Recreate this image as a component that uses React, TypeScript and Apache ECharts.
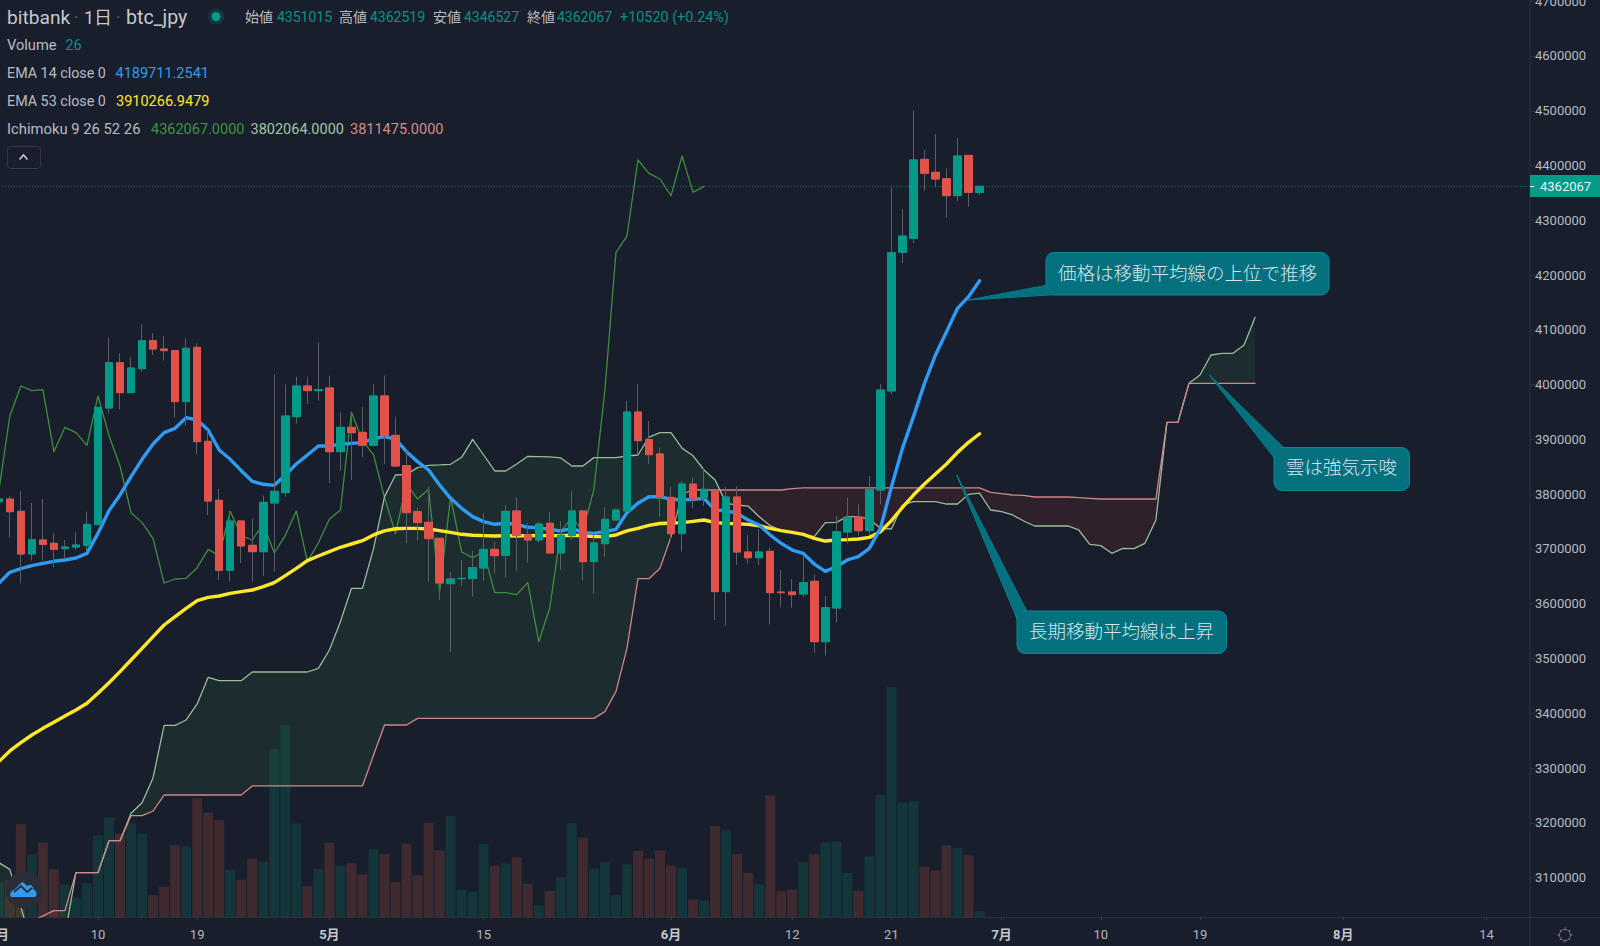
import React, { useEffect, useRef } from "react";
import * as echarts from "echarts";

const FONT = 'Roboto, "Noto Sans CJK JP", sans-serif';
const CJK = '"Noto Sans CJK JP", Roboto, sans-serif';

const BG = "#181e2b";
const UP = "#029a89";
const DOWN = "#e2524a";
const WICK = "#5a5e67";
const VOL_UP = "#14353a";
const VOL_DOWN = "#3f2a30";
const BLUE = "#2e9bf5";
const YELLOW = "#ffe72c";
const CHIKOU_C = "#3e8f3f";
const LEAD_A_C = "#98bd98";
const LEAD_B_C = "#cf8787";
const AXIS_C = "#2b303c";
const TEAL = "#0e8f84";

const openVals = [3786300,3791000,3768700,3690800,3716300,3710300,3700500,3703500,3706600,3744300,3957300,4040100,3985300,4029100,4080300,4065000,4062000,3968900,4068100,3896500,3788800,3661000,3751000,3706600,3695000,3783900,3802700,3941500,3997500,3989000,3993800,3877600,3922000,3912900,3889200,3979300,3907400,3852100,3768100,3748600,3719400,3636600,3645700,3645700,3665200,3699300,3688300,3769300,3725500,3716300,3746800,3692600,3724300,3769300,3676800,3709600,3752900,3769300,3950000,3899500,3873400,3794200,3727900,3818500,3793000,3805700,3622000,3794800,3694400,3684000,3695600,3621300,3621300,3617700,3640800,3530600,3592100,3730900,3758300,3733300,3807600,3988400,4241500,4267100,4411300,4387600,4376000,4345000,4418600,4351015];
const closeVals = [3791200,3768000,3690800,3716900,3708400,3699300,3703500,3707200,3744900,3958500,4040100,3985300,4030400,4080300,4065000,4062000,3968900,4066300,3895900,3787500,3661000,3751000,3705400,3695000,3785100,3805200,3942700,3997500,3989000,3990800,3877600,3922000,3912300,3889200,3979300,3906800,3851400,3766200,3748000,3718800,3637800,3645100,3646300,3665800,3699300,3687700,3768700,3724300,3716300,3745500,3692600,3724900,3769300,3676800,3710900,3754100,3771100,3950000,3897700,3872100,3794200,3727900,3818600,3791100,3808800,3622000,3794800,3694400,3684000,3694400,3620100,3620100,3616500,3638400,3530600,3592700,3731500,3757700,3733300,3808800,3990100,4240900,4271300,4410100,4385800,4375400,4345000,4417400,4351100,4362067];
const lowVals = [3780000,3720600,3637200,3678600,3678600,3666400,3682900,3698100,3695000,3744300,3947600,3954900,3985300,4023700,4054100,4043800,3940300,3924500,3873300,3761400,3643300,3640300,3673700,3640300,3650600,3658500,3795400,3929300,3964600,3970700,3819800,3843000,3825900,3868500,3886800,3855100,3850200,3710200,3715100,3640300,3606800,3511800,3633000,3612900,3642100,3655500,3647600,3660300,3675000,3711500,3692000,3661600,3716300,3642100,3617800,3685900,3752900,3769300,3871500,3855100,3758900,3716300,3695000,3774100,3778400,3570200,3559900,3670600,3673100,3670600,3562300,3593300,3592700,3611600,3510600,3505100,3565900,3710200,3724200,3725400,3781400,3982300,4221400,4258000,4354100,4360200,4304800,4335900,4324900,4346527];
const highVals = [3800000,3796700,3805800,3783900,3790600,3728500,3716300,3731000,3768000,3958500,4086400,4057100,4049800,4110100,4093700,4088800,4062000,4084500,4075400,3917200,3809400,3769900,3751000,3755900,3797300,4018800,4000500,4014500,4014500,4077200,4016400,3949400,3950600,3959800,4001200,4016400,3941500,3880700,3775400,3813700,3719400,3657300,3679800,3696300,3765000,3713300,3780200,3794200,3746800,3749800,3766900,3751000,3805800,3769300,3728500,3776000,3774200,3970700,4001200,3933600,3885500,3813700,3824100,3830100,3847100,3805700,3812400,3814300,3725400,3735700,3702300,3661500,3645100,3688900,3653600,3614000,3760100,3793600,3781400,3833100,4001100,4360200,4320700,4500200,4428400,4457600,4394900,4450300,4418600,4362519];
const volumeVals = [160,167,423,286,340,219,149,88,154,372,454,380,426,380,99,138,327,322,541,477,441,216,170,266,252,765,874,426,140,219,340,234,245,195,309,287,160,334,190,430,304,462,125,116,334,234,245,272,152,53,119,182,429,362,220,251,99,240,302,266,304,234,226,81,76,415,398,287,201,149,555,119,125,251,286,340,344,201,119,277,558,1049,523,527,230,213,327,316,281,26];
const ema14 = [3637200,3657300,3664000,3669500,3673700,3677400,3679800,3683500,3692000,3728500,3769900,3798500,3832000,3863600,3891600,3912300,3920200,3939700,3935400,3917200,3880600,3863600,3842900,3823400,3818000,3816100,3835000,3855100,3871500,3887900,3887900,3891000,3892800,3894000,3901400,3905000,3900700,3877600,3859400,3844100,3816800,3792400,3774200,3759000,3749800,3745000,3746800,3745000,3739500,3738900,3735800,3732800,3737600,3730300,3728500,3731500,3735800,3766200,3783300,3795400,3795400,3790600,3789400,3790500,3792300,3771000,3769800,3765000,3752800,3743700,3725400,3710200,3698000,3691900,3672400,3659100,3667600,3679800,3685800,3701100,3737600,3813000,3883600,3941500,4002300,4054100,4096700,4139300,4160600,4189711];
const ema53 = [3311600,3331100,3346300,3360300,3372400,3383400,3394900,3405900,3418100,3436400,3455800,3475900,3497200,3518500,3539800,3561100,3576300,3591600,3605600,3611600,3614100,3618900,3622000,3625000,3631100,3638400,3651200,3664600,3678600,3687100,3695000,3703000,3709000,3715100,3725500,3733000,3736800,3737600,3737600,3736400,3733400,3730300,3726700,3724900,3724300,3723600,3724300,3723600,3724300,3724300,3724300,3724300,3724900,3724300,3722400,3722400,3725500,3732800,3737600,3743100,3746500,3747400,3748000,3750400,3752800,3748000,3746700,3746100,3744900,3742400,3737600,3733300,3730300,3726600,3719300,3714400,3716300,3716900,3718100,3721100,3731500,3751600,3775900,3798400,3818500,3836800,3855000,3876300,3894600,3910267];
const chikouVals = [3805200,3942700,3997500,3989000,3990800,3877600,3922000,3912300,3889200,3979300,3906800,3851400,3766200,3748000,3718800,3637800,3645100,3646300,3665800,3699300,3687700,3768700,3724300,3716300,3745500,3692600,3724900,3769300,3676800,3710900,3754100,3771100,3950000,3897700,3872100,3794200,3727900,3818600,3791100,3808800,3622000,3794800,3694400,3684000,3694400,3620100,3620100,3616500,3638400,3530600,3592700,3731500,3757700,3733300,3808800,3990100,4240900,4271300,4410100,4385800,4375400,4345000,4417400,4351100,4362067];
const leadAVals = [3127200,3115000,3046800,2973800,2970000,2970000,2994000,3108900,3108900,3108900,3167300,3167300,3217300,3236700,3282400,3377900,3377900,3387700,3416900,3465600,3459500,3459500,3459500,3475300,3475300,3475300,3475300,3475300,3475300,3482000,3515500,3567200,3628100,3628100,3700000,3795500,3835000,3836200,3848400,3852700,3853300,3854500,3867300,3900100,3871500,3842300,3842300,3855100,3869100,3868500,3867900,3866100,3851400,3851400,3866700,3866700,3866700,3869700,3871500,3904000,3912500,3912500,3884000,3870000,3844100,3825800,3783200,3780200,3778300,3758900,3742400,3733300,3729700,3726600,3722400,3747900,3748500,3758900,3758900,3754000,3737600,3736400,3780200,3786300,3786300,3786300,3782000,3782000,3799700,3802064,3771100,3768000,3762000,3751000,3741900,3741900,3741900,3741900,3734600,3708400,3706000,3692000,3701100,3700500,3710200,3752800,3931100,3931100,4002400,4017600,4054100,4057100,4057100,4072300,4122900];
const leadBVals = [2980000,2980000,3000000,3020000,3030000,3039500,3039500,3108900,3108900,3108900,3167300,3167300,3213000,3213000,3221500,3250700,3250700,3250700,3250700,3250700,3250700,3250700,3250700,3267200,3267200,3267200,3267200,3267200,3267200,3267200,3267200,3267200,3267200,3267200,3323200,3378500,3378500,3378500,3390700,3390700,3390700,3390700,3390700,3390700,3390700,3390700,3390700,3390700,3390700,3390700,3390700,3390700,3390700,3390700,3390700,3402900,3439400,3518500,3645700,3645700,3664600,3722000,3800000,3807600,3807600,3807600,3807600,3807600,3807600,3807600,3807600,3807600,3810000,3811475,3811475,3811475,3811475,3811475,3811475,3811475,3811475,3811475,3811475,3811475,3811475,3811475,3811475,3811475,3811475,3811475,3803300,3800900,3798500,3797900,3794800,3794800,3794800,3794800,3793600,3792400,3791200,3791200,3791200,3791200,3791200,3791200,3931100,3931100,4002400,4002400,4002400,4002400,4002400,4002400,4002400];
const lastPrice = 4362067;
const priceTicks = [3100000,3200000,3300000,3400000,3500000,3600000,3700000,3800000,3900000,4000000,4100000,4200000,4300000,4400000,4500000,4600000,4700000];
const dayCount = 140;
const dayTickIndex = [0,9,18,30,44,61,72,81,91,100,109,122,135];
const dayTickText = ["4月","10","19","5月","15","6月","12","21","7月","10","19","8月","14"];
const categories = Array.from({ length: dayCount }, (_, i) => String(i));

const YMIN = 3027972;
const YMAX = 4702245;
const BAND = 11.02;
const GRID_LEFT = -6.71;

function cloudRender(params: any, api: any) {
  if (params.dataIndex !== 0) return null;
  const rect = params.coordSys;
  const n = leadAVals.length;
  const runs: any[] = [];
  const diff = (i: number) => leadAVals[i] - leadBVals[i];
  let sign = diff(0) >= 0 ? 1 : -1;
  let upper: number[][] = [];
  let lower: number[][] = [];
  const flush = () => runs.push({ sign, pts: upper.concat(lower.slice().reverse()) });
  for (let i = 0; i < n; i++) {
    const p = api.coord([i, leadAVals[i]]);
    const q = api.coord([i, leadBVals[i]]);
    upper.push(p);
    lower.push(q);
    if (i < n - 1) {
      const d0 = diff(i);
      const d1 = diff(i + 1);
      if (d1 !== 0 && (d1 > 0 ? 1 : -1) !== sign) {
        let c = p;
        if (d0 !== 0) {
          const t = d0 / (d0 - d1);
          const p1 = api.coord([i + 1, leadAVals[i + 1]]);
          c = [p[0] + (p1[0] - p[0]) * t, p[1] + (p1[1] - p[1]) * t];
          upper.push(c);
          lower.push(c);
        }
        flush();
        upper = [c];
        lower = [c];
        sign = -sign;
      }
    }
  }
  flush();
  return {
    type: "group",
    children: runs.map((r) => ({
      type: "polygon",
      shape: { points: echarts.graphic.clipPointsByRect(r.pts, rect) },
      style: { fill: r.sign > 0 ? "rgba(76,175,80,0.1)" : "rgba(244,67,54,0.1)", stroke: "none" },
    })),
  };
}

function txt(text: string, x: number, y: number, fill: string, fontSize = 14.4, extra: any = {}) {
  return {
    type: "text",
    x,
    y,
    silent: true,
    z: 50,
    style: { text, fill, fontSize, fontFamily: FONT, verticalAlign: "middle", align: "left", ...extra },
  };
}

function callout(tail: number[][], box: number[], label: string, tx: number, ty: number) {
  const BORDER = "#058a9a";
  const FILL = "#05707e";
  const [x, y, w, h] = box;
  return [
    { type: "polygon", silent: true, z: 60, shape: { points: tail }, style: { fill: FILL, stroke: BORDER, lineWidth: 1 } },
    { type: "rect", silent: true, z: 61, shape: { x, y, width: w, height: h, r: 8 }, style: { fill: FILL, stroke: BORDER, lineWidth: 1 } },
    { type: "polygon", silent: true, z: 62, shape: { points: tail.map((p) => [(p[0] + tail[0][0] * 0.02) / 1.02, (p[1] + tail[0][1] * 0.02) / 1.02]) }, style: { fill: FILL } },
    {
      type: "text",
      silent: true,
      z: 63,
      x: tx,
      y: ty,
      style: { text: label, fill: "#d6e6ea", fontSize: 18.5, fontFamily: CJK, fontWeight: 300, verticalAlign: "middle", align: "left" },
    },
  ];
}

function gearElements() {
  const cx = 1565;
  const cy = 935;
  const items: any[] = [
    { type: "circle", silent: true, z: 50, shape: { cx, cy, r: 5.5 }, style: { fill: "none", stroke: "#777b85", lineWidth: 1 } },
  ];
  for (let k = 0; k < 8; k++) {
    const a = (k * Math.PI) / 4;
    items.push({
      type: "line",
      silent: true,
      z: 50,
      shape: { x1: cx + Math.cos(a) * 5.5, y1: cy + Math.sin(a) * 5.5, x2: cx + Math.cos(a) * 7.5, y2: cy + Math.sin(a) * 7.5 },
      style: { stroke: "#777b85", lineWidth: 1 },
    });
  }
  return items;
}

echarts.graphic.registerShape(
  "cloudLogo",
  echarts.graphic.extendPath(
    "M12 897 C9 897 10 891 14 890 L21 883 C22 882 23 882 24 883 L27 886 L30 885 C32 885 33 887 33 889 C37 890 38 897 34 897 Z",
    {}
  )
);

const graphicElements: any[] = [
  { type: "line", silent: true, z: 40, shape: { x1: 1530, y1: 0, x2: 1530, y2: 946 }, style: { stroke: AXIS_C, lineWidth: 1 } },
  { type: "line", silent: true, z: 40, shape: { x1: 1530, y1: 917.5, x2: 1600, y2: 917.5 }, style: { stroke: AXIS_C, lineWidth: 1 } },

  txt("bitbank", 7, 17, "#c6c8ce", 19.2),
  txt("·", 74, 17, "#6d7079", 16),
  txt("1日", 84, 17, "#c6c8ce", 18),
  txt("·", 116, 17, "#6d7079", 16),
  txt("btc_jpy", 126, 17, "#c6c8ce", 19.6),
  { type: "circle", silent: true, z: 50, shape: { cx: 216, cy: 16.5, r: 8 }, style: { fill: "rgba(0,150,136,0.22)" } },
  { type: "circle", silent: true, z: 51, shape: { cx: 216, cy: 16.5, r: 4.5 }, style: { fill: "#0b9a8c" } },

  txt("始値", 245, 17, "#b9bbc2", 14),
  txt("4351015", 277, 17, TEAL, 14),
  txt("高値", 339, 17, "#b9bbc2", 14),
  txt("4362519", 370, 17, TEAL, 14),
  txt("安値", 433, 17, "#b9bbc2", 14),
  txt("4346527", 464, 17, TEAL, 14),
  txt("終値", 527, 17, "#b9bbc2", 14),
  txt("4362067", 557, 17, TEAL, 14),
  txt("+10520 (+0.24%)", 620, 17, TEAL),

  txt("Volume", 7, 45, "#b9bbc2", 14.6),
  txt("26", 65.5, 45, TEAL),
  txt("EMA 14 close 0", 7, 73, "#b9bbc2", 14.3),
  txt("4189711.2541", 115.5, 73, BLUE, 14.5),
  txt("EMA 53 close 0", 7, 101, "#b9bbc2", 14.3),
  txt("3910266.9479", 116, 101, YELLOW, 14.5),
  txt("Ichimoku 9 26 52 26", 7, 129, "#b9bbc2", 14.8),
  txt("4362067.0000", 151, 129, "#3f9440", 14.5),
  txt("3802064.0000", 250.5, 129, "#a3c6a3", 14.5),
  txt("3811475.0000", 350, 129, "#d68b8b", 14.5),

  { type: "rect", silent: true, z: 50, shape: { x: 7.5, y: 146.5, width: 33, height: 22, r: 3 }, style: { fill: "none", stroke: "#353a46", lineWidth: 1 } },
  { type: "polyline", silent: true, z: 50, shape: { points: [[19.5, 159.5], [23.5, 155], [27.5, 159.5]] }, style: { fill: "none", stroke: "#c9ccd2", lineWidth: 1.6 } },

  { type: "rect", silent: true, z: 50, shape: { x: 1530, y: 175, width: 70, height: 22 }, style: { fill: "#029a89" } },
  { type: "line", silent: true, z: 51, shape: { x1: 1530, y1: 186.5, x2: 1534, y2: 186.5 }, style: { stroke: "#ffffff", lineWidth: 1 } },
  txt("4362067", 1540, 186.5, "#e8f3f2", 13),

  { type: "circle", silent: true, z: 70, shape: { cx: 24, cy: 890, r: 18.5 }, style: { fill: "#2a2e39" } },
  { type: "cloudLogo", silent: true, z: 71, style: { fill: "#2e9bf5" } },
  { type: "polyline", silent: true, z: 72, shape: { points: [[14, 892], [21, 886], [27, 892], [32, 888]] }, style: { fill: "none", stroke: "#2a2e39", lineWidth: 1.8 } },

  ...callout([[968.3, 300], [1047, 285.3], [1056, 294.5]], [1046, 252.5, 283, 42.5], "価格は移動平均線の上位で推移", 1058, 271.5),
  ...callout([[1209.3, 375], [1284, 448], [1274.5, 458]], [1274, 447.5, 135.5, 43], "雲は強気示唆", 1286, 465.5),
  ...callout([[956.7, 475], [1027, 611.5], [1017.5, 620]], [1017, 611, 209.5, 42.5], "長期移動平均線は上昇", 1029, 629.5),

  ...gearElements(),
];

const bodyStyle = { color: UP, color0: DOWN, borderColor: UP, borderColor0: DOWN, borderWidth: 1 };

function buildOption(): any {
  const wickData = openVals.map((o, i) => [o, closeVals[i], lowVals[i], highVals[i]]);
  const bodyData = openVals.map((o, i) => [o, closeVals[i], Math.min(o, closeVals[i]), Math.max(o, closeVals[i])]);
  const volumeData = volumeVals.map((v, i) => ({
    value: v,
    itemStyle: { color: closeVals[i] >= openVals[i] ? VOL_UP : VOL_DOWN },
  }));
  const line = (name: string, data: number[], color: string, width: number, z: number) => ({
    type: "line",
    name,
    data,
    z,
    silent: true,
    showSymbol: false,
    symbol: "none",
    lineStyle: { color, width, cap: "round", join: "round" },
    itemStyle: { color },
  });
  return {
    animation: false,
    backgroundColor: BG,
    textStyle: { fontFamily: FONT },
    grid: { left: GRID_LEFT, top: 0, width: BAND * dayCount, height: 917, containLabel: false, outerBoundsMode: "none" },
    xAxis: {
      type: "category",
      data: categories,
      boundaryGap: true,
      axisLine: { show: true, lineStyle: { color: AXIS_C, width: 1 } },
      axisTick: {
        show: true,
        length: 3,
        alignWithLabel: true,
        interval: (idx: number) => dayTickIndex.includes(idx),
        lineStyle: { color: "#3a3f4b", width: 1 },
      },
      axisLabel: {
        show: true,
        margin: 11,
        interval: (idx: number) => dayTickIndex.includes(idx),
        formatter: (_: string, idx: number) => {
          const label = dayTickText[dayTickIndex.indexOf(idx)] ?? "";
          return label.endsWith("月") ? `{b|${label}}` : label;
        },
        color: "#b4b7bf",
        fontSize: 13,
        fontFamily: FONT,
        hideOverlap: false,
        rich: { b: { fontWeight: "bold", fontSize: 13, color: "#c4c6cd", fontFamily: FONT } },
      },
      splitLine: { show: false },
    },
    yAxis: [
      {
        type: "value",
        position: "right",
        offset: -6.09,
        min: YMIN,
        max: YMAX,
        scale: true,
        axisLine: { show: false },
        axisTick: { show: true, length: 5, customValues: priceTicks, lineStyle: { color: AXIS_C, width: 1 } },
        axisLabel: {
          show: true,
          margin: 5,
          customValues: priceTicks,
          formatter: (v: number) => String(v),
          color: "#b7bac2",
          fontSize: 13,
          fontFamily: FONT,
          padding: [4, 0, 0, 0],
          showMinLabel: true,
          showMaxLabel: true,
        },
        splitLine: { show: false },
      },
      { type: "value", show: false, min: 0, max: 4182, splitLine: { show: false } },
    ],
    graphic: { elements: graphicElements },
    series: [
      { type: "bar", name: "Volume", yAxisIndex: 1, data: volumeData, barWidth: 10, z: 1, silent: true },
      {
        type: "custom",
        name: "Cloud",
        z: 2,
        silent: true,
        renderItem: cloudRender,
        data: leadAVals.map((a, i) => [i, a, leadBVals[i]]),
        encode: { x: 0, y: [1, 2] },
      },
      line("Chikou", chikouVals, CHIKOU_C, 1.3, 3),
      line("Lead A", leadAVals, LEAD_A_C, 1.3, 3),
      line("Lead B", leadBVals, LEAD_B_C, 1.3, 3),
      {
        type: "line",
        name: "Last",
        data: [[0, lastPrice], [dayCount - 1, lastPrice]],
        z: 4,
        silent: true,
        symbol: "none",
        lineStyle: { color: "#0f8076", width: 1, type: [1, 2] },
      },
      line("EMA 53", ema53, YELLOW, 3.4, 4),
      line("EMA 14", ema14, BLUE, 3.4, 4),
      {
        type: "candlestick",
        name: "Wicks",
        data: wickData,
        barWidth: 8,
        z: 5,
        silent: true,
        itemStyle: { color: WICK, color0: WICK, borderColor: WICK, borderColor0: WICK, borderWidth: 1 },
      },
      {
        type: "candlestick",
        name: "Bodies",
        data: bodyData,
        barWidth: 8,
        z: 6,
        silent: true,
        itemStyle: bodyStyle,
      },
    ],
  };
}

export default function App() {
  const ref = useRef<HTMLDivElement>(null);
  useEffect(() => {
    document.body.style.margin = "0";
    document.body.style.background = BG;
    const chart = echarts.init(ref.current!, undefined, { renderer: "svg" });
    chart.setOption(buildOption());
    return () => chart.dispose();
  }, []);
  return <div ref={ref} style={{ width: 1600, height: 946, overflow: "hidden" }} />;
}
